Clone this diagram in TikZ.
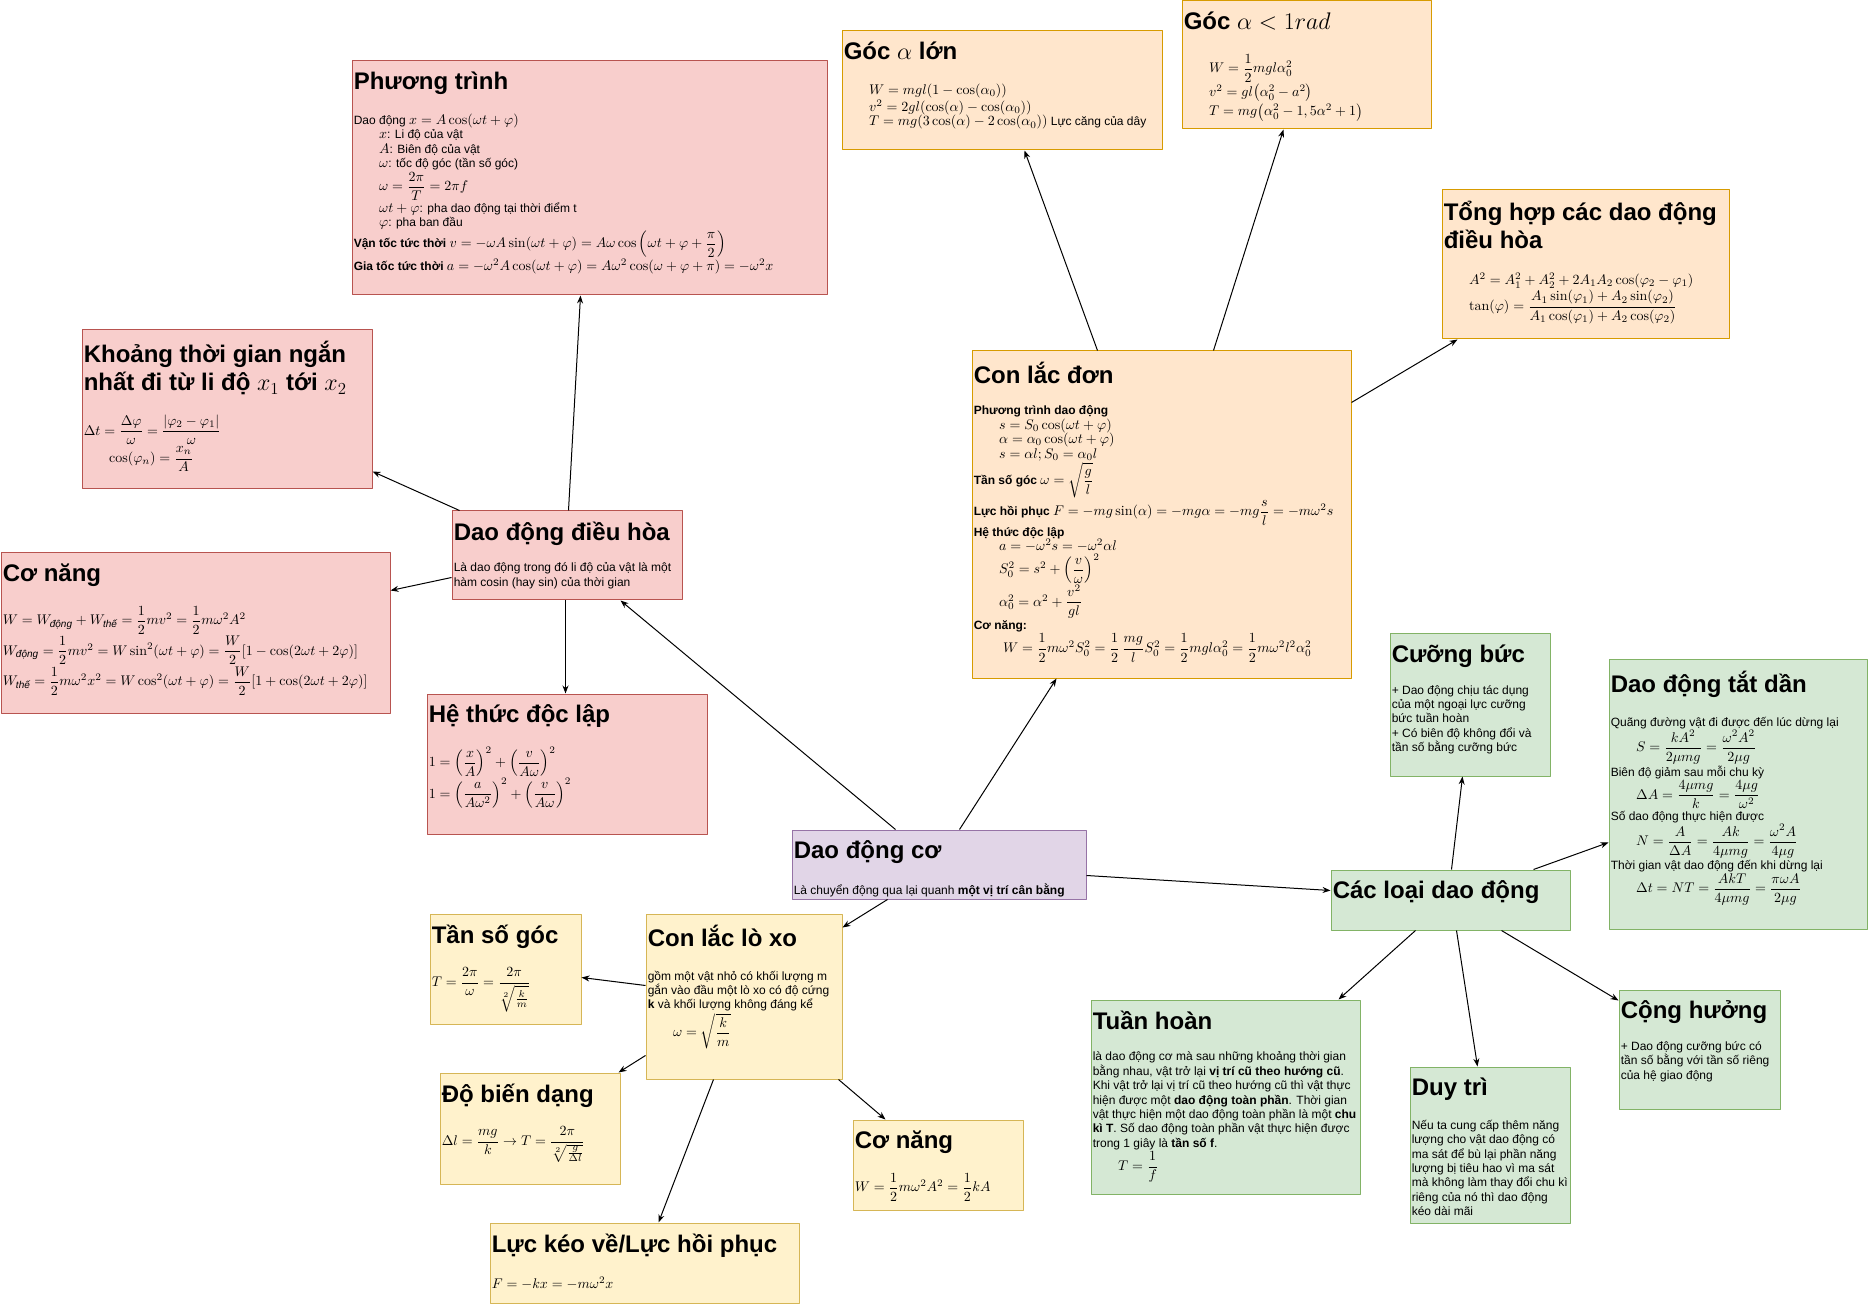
\RequirePackage{fix-cm}
\documentclass[tikz,border=0pt]{standalone}
\usepackage{amsmath}
\usepackage{fontspec}
\newfontfamily\arialfont{Liberation Sans}
\usetikzlibrary{arrows.meta, fit}

\definecolor{redfill}{HTML}{F8CECC}
\definecolor{redline}{HTML}{B85450}
\definecolor{orgfill}{HTML}{FFE6CC}
\definecolor{orgline}{HTML}{D79B00}
\definecolor{yelfill}{HTML}{FFF2CC}
\definecolor{yelline}{HTML}{D6B656}
\definecolor{grnfill}{HTML}{D5E8D4}
\definecolor{grnline}{HTML}{82B366}
\definecolor{purfill}{HTML}{E1D5E7}
\definecolor{purline}{HTML}{9673A6}

% formulas a bit larger than the 9pt text
\DeclareMathSizes{9}{10.5}{7.5}{5.5}
\setlength{\lineskip}{1.5pt}

% card heading, formula indent, energy subscripts
\newcommand{\hd}[1]{{\fontsize{18}{21}\selectfont\bfseries\rule[-4pt]{0pt}{17pt}#1}}
\newcommand{\indt}{\hspace*{19pt}}
\newcommand{\Wdong}{W_{\text{\itshape động}}}
\newcommand{\Wthe}{W_{\text{\itshape thế}}}

\begin{document}
\begin{tikzpicture}[x=0.75pt, y=-0.75pt, >={Stealth[length=6pt, width=4.5pt]},
	line join=round,
	card/.style={draw, line width=0.75pt, inner sep=0pt},
	redcard/.style={card, draw=redline, fill=redfill},
	orgcard/.style={card, draw=orgline, fill=orgfill},
	yelcard/.style={card, draw=yelline, fill=yelfill},
	grncard/.style={card, draw=grnline, fill=grnfill},
	purcard/.style={card, draw=purline, fill=purfill},
	txt/.style={anchor=north west, inner sep=0pt, align=left,
		font=\arialfont\fontsize{9}{10.8}\selectfont},
	link/.style={->, line width=0.75pt}]
	
	\useasboundingbox (0,0) rectangle (1868,1308);
	
	%========================
	% Cards
	%========================
	\node[purcard, fit={(792,830) (1086,899)}] (ddc) {};
	
	\node[redcard, fit={(452,511) (682,600)}] (ddh) {};
	\node[redcard, fit={(352,61) (827,295)}] (pt) {};
	\node[redcard, fit={(82,330) (372,489)}] (kt) {};
	\node[redcard, fit={(1,553) (390,713)}] (cnd) {};
	\node[redcard, fit={(427,694) (707,834)}] (ht) {};
	
	\node[orgcard, fit={(972,351) (1351,678)}] (cld) {};
	\node[orgcard, fit={(842,31) (1162,150)}] (gl) {};
	\node[orgcard, fit={(1182,1) (1431,129)}] (gn) {};
	\node[orgcard, fit={(1442,190) (1729,339)}] (th) {};
	
	\node[yelcard, fit={(646,914) (842,1079)}] (cllx) {};
	\node[yelcard, fit={(430,914) (581,1024)}] (tsg) {};
	\node[yelcard, fit={(440,1073) (620,1184)}] (bd) {};
	\node[yelcard, fit={(853,1120) (1023,1210)}] (cnl) {};
	\node[yelcard, fit={(490,1223) (799,1303)}] (lkv) {};
	
	\node[grncard, fit={(1331,870) (1570,930)}] (cl) {};
	\node[grncard, fit={(1390,634) (1550,776)}] (cb) {};
	\node[grncard, fit={(1609,660) (1867,929)}] (tdd) {};
	\node[grncard, fit={(1091,1000) (1360,1194)}] (tuh) {};
	\node[grncard, fit={(1410,1067) (1570,1223)}] (dt) {};
	\node[grncard, fit={(1619,990) (1780,1109)}] (ch) {};
	
	%========================
	% Texts
	%========================
	\node[txt] (ddc-t) at ([shift={(2,11)}]ddc.north west) {\hd{Dao động cơ}\\[13pt]
		Là chuyển động qua lại quanh \textbf{một vị trí cân bằng}};
	
	\node[txt] (ddh-t) at ([shift={(2,11)}]ddh.north west) {\hd{Dao động điều hòa}\\[13pt]
		Là dao động trong đó li độ của vật là một\\
		hàm cosin (hay sin) của thời gian};
	
	\node[txt] (pt-t) at ([shift={(2,11)}]pt.north west) {\hd{Phương trình}\\[13pt]
		Dao động $x=A\cos(\omega t+\varphi)$\\
		\indt $x$: Li độ của vật\\
		\indt $A$: Biên độ của vật\\
		\indt $\omega$: tốc độ góc (tần số góc)\\
		\indt $\omega=\dfrac{2\pi}{T}=2\pi f$\\
		\indt $\omega t+\varphi$: pha dao động tại thời điểm t\\
		\indt $\varphi$: pha ban đầu\\
		\textbf{Vận tốc tức thời} $v=-\omega A\sin(\omega t+\varphi)=A\omega\cos\Big(\omega t+\varphi+\dfrac{\pi}{2}\Big)$\\
		\textbf{Gia tốc tức thời} $a=-\omega^2A\cos(\omega t+\varphi)=A\omega^2\cos(\omega+\varphi+\pi)=-\omega^2x$};
	
	\node[txt] (kt-t) at ([shift={(2,11)}]kt.north west) {\hd{Khoảng thời gian ngắn}\\[2pt]
		\hd{nhất đi từ li độ $x_1$ tới $x_2$}\\[13pt]
		$\Delta t=\dfrac{\Delta\varphi}{\omega}=\dfrac{|\varphi_2-\varphi_1|}{\omega}$\\
		\indt $\cos(\varphi_n)=\dfrac{x_n}{A}$};
	
	\node[txt] (cnd-t) at ([shift={(2,11)}]cnd.north west) {\hd{Cơ năng}\\[13pt]
		$W=\Wdong+\Wthe=\dfrac{1}{2}mv^2=\dfrac{1}{2}m\omega^2A^2$\\
		$\Wdong=\dfrac{1}{2}mv^2=W\sin^2(\omega t+\varphi)=\dfrac{W}{2}[1-\cos(2\omega t+2\varphi)]$\\
		$\Wthe=\dfrac{1}{2}m\omega^2x^2=W\cos^2(\omega t+\varphi)=\dfrac{W}{2}[1+\cos(2\omega t+2\varphi)]$};
	
	\node[txt] (ht-t) at ([shift={(2,11)}]ht.north west) {\hd{Hệ thức độc lập}\\[13pt]
		$1=\left(\dfrac{x}{A}\right)^2+\left(\dfrac{v}{A\omega}\right)^2$\\
		$1=\left(\dfrac{a}{A\omega^2}\right)^2+\left(\dfrac{v}{A\omega}\right)^2$};
	
	\node[txt] (cld-t) at ([shift={(2,11)}]cld.north west) {\hd{Con lắc đơn}\\[13pt]
		\textbf{Phương trình dao động}\\
		\indt $s=S_0\cos(\omega t+\varphi)$\\
		\indt $\alpha=\alpha_0\cos(\omega t+\varphi)$\\
		\indt $s=\alpha l;S_0=\alpha_0l$\\
		\textbf{Tần số góc} $\omega=\sqrt{\dfrac{g}{l}}$\\
		\textbf{Lực hồi phục} $F=-mg\sin(\alpha)=-mg\alpha=-mg\dfrac{s}{l}=-m\omega^2s$\\
		\textbf{Hệ thức độc lập}\\
		\indt $a=-\omega^2s=-\omega^2\alpha l$\\
		\indt $S_0^2=s^2+\left(\dfrac{v}{\omega}\right)^2$\\
		\indt $\alpha_0^2=\alpha^2+\dfrac{v^2}{gl}$\\
		\textbf{Cơ năng:}\\
		\hspace*{22pt}$W=\dfrac{1}{2}m\omega^2S_0^2=\dfrac{1}{2}\,\dfrac{mg}{l}S_0^2=\dfrac{1}{2}mgl\alpha_0^2=\dfrac{1}{2}m\omega^2l^2\alpha_0^2$};
	
	\node[txt] (gl-t) at ([shift={(2,11)}]gl.north west) {\hd{Góc $\alpha$ lớn}\\[13pt]
		\indt $W=mgl(1-\cos(\alpha_0))$\\
		\indt $v^2=2gl(\cos(\alpha)-\cos(\alpha_0))$\\
		\indt $T=mg(3\cos(\alpha)-2\cos(\alpha_0))$ Lực căng của dây};
	
	\node[txt] (gn-t) at ([shift={(2,11)}]gn.north west) {\hd{Góc $\alpha<1rad$}\\[13pt]
		\indt $W=\dfrac{1}{2}mgl\alpha_0^2$\\
		\indt $v^2=gl\big(\alpha_0^2-a^2\big)$\\
		\indt $T=mg\big(\alpha_0^2-1,5\alpha^2+1\big)$};
	
	\node[txt] (th-t) at ([shift={(2,11)}]th.north west) {\hd{Tổng hợp các dao động}\\[2pt]
		\hd{điều hòa}\\[13pt]
		\indt $A^2=A_1^2+A_2^2+2A_1A_2\cos(\varphi_2-\varphi_1)$\\
		\indt $\tan(\varphi)=\dfrac{A_1\sin(\varphi_1)+A_2\sin(\varphi_2)}{A_1\cos(\varphi_1)+A_2\cos(\varphi_2)}$};
	
	\node[txt] (cllx-t) at ([shift={(2,11)}]cllx.north west) {\hd{Con lắc lò xo}\\[13pt]
		gồm một vật nhỏ có khối lượng m\\
		gắn vào đầu một lò xo có độ cứng\\
		\textbf{k} và khối lượng không đáng kể\\
		\indt $\omega=\sqrt{\dfrac{k}{m}}$};
	
	\node[txt] (tsg-t) at ([shift={(2,11)}]tsg.north west) {\hd{Tần số góc}\\[13pt]
		$T=\dfrac{2\pi}{\omega}=\dfrac{2\pi}{\sqrt[2]{\frac{k}{m}}}$};
	
	\node[txt] (bd-t) at ([shift={(2,11)}]bd.north west) {\hd{Độ biến dạng}\\[13pt]
		$\Delta l=\dfrac{mg}{k}\to T=\dfrac{2\pi}{\sqrt[2]{\frac{g}{\Delta l}}}$};
	
	\node[txt] (cnl-t) at ([shift={(2,11)}]cnl.north west) {\hd{Cơ năng}\\[13pt]
		$W=\dfrac{1}{2}m\omega^2A^2=\dfrac{1}{2}kA$};
	
	\node[txt] (lkv-t) at ([shift={(2,11)}]lkv.north west) {\hd{Lực kéo về/Lực hồi phục}\\[13pt]
		$F=-kx=-m\omega^2x$};
	
	\node[txt] (cl-t) at ([shift={(2,11)}]cl.north west) {\hd{Các loại dao động}};
	
	\node[txt] (cb-t) at ([shift={(2,11)}]cb.north west) {\hd{Cưỡng bức}\\[13pt]
		+ Dao động chịu tác dụng\\
		của một ngoại lực cưỡng\\
		bức tuần hoàn\\
		+ Có biên độ không đổi và\\
		tần số bằng cưỡng bức};
	
	\node[txt] (tdd-t) at ([shift={(2,11)}]tdd.north west) {\hd{Dao động tắt dần}\\[13pt]
		Quãng đường vật đi được đến lúc dừng lại\\
		\indt $S=\dfrac{kA^2}{2\mu mg}=\dfrac{\omega^2A^2}{2\mu g}$\\
		Biên độ giảm sau mỗi chu kỳ\\
		\indt $\Delta A=\dfrac{4\mu mg}{k}=\dfrac{4\mu g}{\omega^2}$\\
		Số dao động thực hiện được\\
		\indt $N=\dfrac{A}{\Delta A}=\dfrac{Ak}{4\mu mg}=\dfrac{\omega^2A}{4\mu g}$\\
		Thời gian vật dao động đến khi dừng lại\\
		\indt $\Delta t=NT=\dfrac{AkT}{4\mu mg}=\dfrac{\pi\omega A}{2\mu g}$};
	
	\node[txt] (tuh-t) at ([shift={(2,11)}]tuh.north west) {\hd{Tuần hoàn}\\[13pt]
		là dao động cơ mà sau những khoảng thời gian\\
		bằng nhau, vật trở lại \textbf{vị trí cũ theo hướng cũ}.\\
		Khi vật trở lại vị trí cũ theo hướng cũ thì vật thực\\
		hiện được một \textbf{dao động toàn phần}. Thời gian\\
		vật thực hiện một dao động toàn phần là một \textbf{chu}\\
		\textbf{kì T}. Số dao động toàn phần vật thực hiện được\\
		trong 1 giây là \textbf{tần số f}.\\
		\indt $T=\dfrac{1}{f}$};
	
	\node[txt] (dt-t) at ([shift={(2,11)}]dt.north west) {\hd{Duy trì}\\[13pt]
		Nếu ta cung cấp thêm năng\\
		lượng cho vật dao động có\\
		ma sát để bù lại phần năng\\
		lượng bị tiêu hao vì ma sát\\
		mà không làm thay đổi chu kì\\
		riêng của nó thì dao động\\
		kéo dài mãi};
	
	\node[txt] (ch-t) at ([shift={(2,11)}]ch.north west) {\hd{Cộng hưởng}\\[13pt]
		+ Dao động cưỡng bức có\\
		tần số bằng với tần số riêng\\
		của hệ giao động};
	
	%========================
	% Links
	%========================
	\draw[link] ([shift={(104,0)}]ddc.north west) -- ([shift={(169,0)}]ddh.south west);
	\draw[link] ([shift={(168,0)}]ddc.north west) -- ([shift={(85,0)}]cld.south west);
	\draw[link] ([shift={(0,46)}]ddc.north east) -- ([shift={(0,21)}]cl.north west);
	\draw[link] ([shift={(96,0)}]ddc.south west) -- ([shift={(0,14)}]cllx.north east);
	
	\draw[link] ([shift={(117,0)}]ddh.north west) -- ([shift={(229,0)}]pt.south west);
	\draw[link] ([shift={(8,0)}]ddh.north west) -- ([shift={(0,142)}]kt.north east);
	\draw[link] ([shift={(0,67)}]ddh.north west) -- ([shift={(0,38)}]cnd.north east);
	\draw[link] ([shift={(114,0)}]ddh.south west) -- ([shift={(139,0)}]ht.north west);
	
	\draw[link] ([shift={(126,0)}]cld.north west) -- ([shift={(183,0)}]gl.south west);
	\draw[link] ([shift={(242,0)}]cld.north west) -- ([shift={(102,0)}]gn.south west);
	\draw[link] ([shift={(0,52)}]cld.north east) -- ([shift={(16,0)}]th.south west);
	
	\draw[link] ([shift={(0,72)}]cllx.north west) -- ([shift={(0,64)}]tsg.north east);
	\draw[link] ([shift={(0,142)}]cllx.north west) -- ([shift={(-2,0)}]bd.north east);
	\draw[link] ([shift={(68,0)}]cllx.south west) -- ([shift={(169,0)}]lkv.north west);
	\draw[link] ([shift={(-4,0)}]cllx.south east) -- ([shift={(33,0)}]cnl.north west);
	
	\draw[link] ([shift={(121,0)}]cl.north west) -- ([shift={(73,0)}]cb.south west);
	\draw[link] ([shift={(203,0)}]cl.north west) -- ([shift={(0,183)}]tdd.north west);
	\draw[link] ([shift={(85,0)}]cl.south west) -- ([shift={(248,0)}]tuh.north west);
	\draw[link] ([shift={(126,0)}]cl.south west) -- ([shift={(68,0)}]dt.north west);
	\draw[link] ([shift={(171,0)}]cl.south west) -- ([shift={(0,11)}]ch.north west);
	
\end{tikzpicture}
\end{document}
